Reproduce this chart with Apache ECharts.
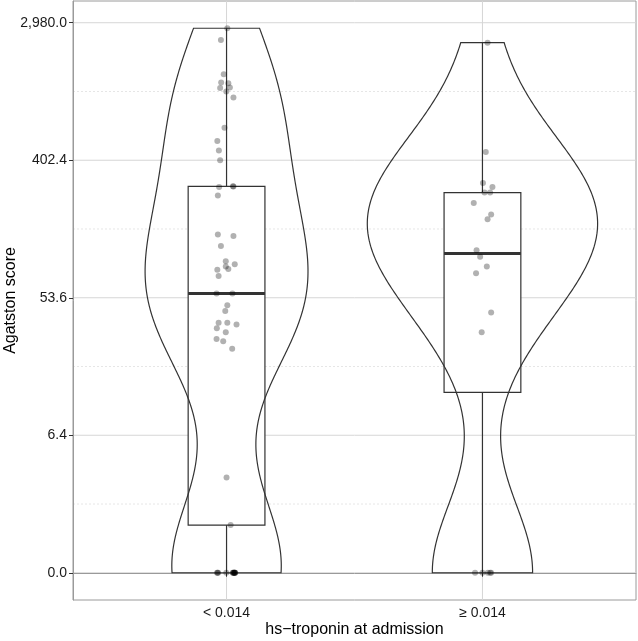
<!DOCTYPE html>
<html>
<head>
<meta charset="utf-8">
<script src="https://cdn.jsdelivr.net/npm/echarts@6/dist/echarts.min.js"></script>
<style>
  html, body { margin: 0; padding: 0; background: #fff; }
  #chart { width: 638px; height: 641px; }
</style>
</head>
<body>
<div id="chart"></div>
<script>
// categories on the x axis
const categories = ['< 0.014', '\u2265 0.014'];

// Agatston scores per group
const scoresLow = [2751, 2321, 1408, 1248, 1236, 1152, 1160, 1096, 1002,
  645, 533, 463, 402, 275, 274, 272, 241,
  136, 133, 115, 92, 88, 85, 82, 81, 74,
  57, 57, 48, 44, 37, 37, 36, 34, 32, 29, 28, 25,
  3, 1,
  0, 0, 0, 0, 0, 0, 0, 0, 0, 0, 0, 0, 0];
// horizontal jitter of each point (category units)
const jitterLow = [0.003, -0.022, -0.011, -0.021, 0.007, -0.025, 0.013, -0.001, 0.027,
  -0.008, -0.036, -0.030, -0.025, 0.025, 0.027, -0.029, -0.034,
  -0.034, 0.027, -0.022, -0.003, 0.032, -0.003, 0.007, -0.036, -0.031,
  -0.039, 0.023, 0.003, -0.005, -0.031, 0.003, 0.039, -0.038, -0.003, -0.039, -0.013, 0.022,
  0, 0.016,
  -0.037, -0.035, -0.033, -0.001, 0.024, 0.026, 0.027, 0.029, 0.030, 0.031, 0.032, 0.033, 0.034];

const scoresHigh = [2230, 454, 289, 272, 251, 251, 216, 182, 170,
  108, 98, 85, 77, 43, 32,
  0, 0, 0, 0, 0];
const jitterHigh = [0.020, 0.013, 0.002, 0.039, 0.008, 0.030, -0.034, 0.034, 0.020,
  -0.023, -0.009, 0.017, -0.025, 0.034, -0.003,
  -0.029, 0.0, 0.021, 0.030, 0.034];

// y breaks on the log(1 + score) scale; labels show the score itself
const yBreaks = [0, 2, 4, 6, 8];
const yMinorBreaks = [1, 3, 5, 7];

const groups = [scoresLow, scoresHigh].map(s => s.map(v => Math.log1p(v)));
const jitters = [jitterLow, jitterHigh];

// ---- stats like ggplot ----
function quantile(arr, p) {
  const s = arr.slice().sort((a, b) => a - b);
  const h = (s.length - 1) * p;
  const lo = Math.floor(h);
  return s[lo] + (h - lo) * ((s[lo + 1] !== undefined ? s[lo + 1] : s[lo]) - s[lo]);
}
function sd(arr) {
  const m = arr.reduce((a, b) => a + b, 0) / arr.length;
  return Math.sqrt(arr.reduce((a, b) => a + (b - m) * (b - m), 0) / (arr.length - 1));
}
function bwNrd0(arr) {
  const lo = Math.min(sd(arr), (quantile(arr, 0.75) - quantile(arr, 0.25)) / 1.34);
  return 0.9 * lo * Math.pow(arr.length, -0.2);
}

const boxStats = groups.map(g => {
  const q1 = quantile(g, 0.25), med = quantile(g, 0.5), q3 = quantile(g, 0.75);
  const iqr = q3 - q1;
  const lowW = Math.min(...g.filter(v => v >= q1 - 1.5 * iqr));
  const highW = Math.max(...g.filter(v => v <= q3 + 1.5 * iqr));
  return [lowW, q1, med, q3, highW];
});

const violins = groups.map(g => {
  const bw = bwNrd0(g);
  const mn = Math.min(...g), mx = Math.max(...g);
  const pts = [];
  for (let i = 0; i < 256; i++) {
    const t = mn + (mx - mn) * i / 255;
    let d = 0;
    g.forEach(x => { const z = (t - x) / bw; d += Math.exp(-0.5 * z * z); });
    pts.push([t, d / (g.length * bw * Math.sqrt(2 * Math.PI))]);
  }
  return pts;
});
const maxDens = Math.max(...violins.map(v => Math.max(...v.map(p => p[1]))));

const allT = groups.flat();
const tMax = Math.max(...allT), tMin = Math.min(...allT);
const yPad = (tMax - tMin) * 0.05;

function fmtScore(v) {
  const s = v.toFixed(1);
  const [i, f] = s.split('.');
  return i.replace(/\B(?=(\d{3})+(?!\d))/g, ',') + '.' + f;
}

const font = "'Liberation Sans', Arial, sans-serif";
const ink = '#333333';
const frame = '#9a9a9a';

const points = [];
groups.forEach((g, gi) => g.forEach((t, i) => points.push([gi + 1 + jitters[gi][i], t])));

const chart = echarts.init(document.getElementById('chart'));
chart.setOption({
  animation: false,
  backgroundColor: '#fff',
  grid: {
    left: 73, right: 2, top: 1, bottom: 41,
    outerBoundsMode: 'none', containLabel: false,
    show: true, borderColor: frame, borderWidth: 1, backgroundColor: '#fff'
  },
  xAxis: {
    type: 'value', min: 0.4, max: 2.6,
    name: 'hs\u2212troponin at admission',
    nameLocation: 'middle', nameGap: 22, nameMoveOverlap: false,
    nameTextStyle: { fontFamily: font, fontSize: 16, color: '#000' },
    axisLine: { show: true, lineStyle: { color: frame } },
    splitLine: { show: false },
    axisTick: { show: true, customValues: [1, 2], length: 4, lineStyle: { color: ink } },
    axisLabel: {
      customValues: [1, 2], margin: 6,
      fontFamily: font, fontSize: 14, color: '#1a1a1a',
      formatter: v => categories[Math.round(v) - 1]
    }
  },
  yAxis: {
    type: 'value', min: tMin - yPad, max: tMax + yPad,
    name: 'Agatston score',
    nameLocation: 'middle', nameGap: 54, nameMoveOverlap: false,
    nameTextStyle: { fontFamily: font, fontSize: 16, color: '#000' },
    axisLine: { show: true, lineStyle: { color: frame } },
    splitLine: { show: false },
    axisTick: { show: true, customValues: yBreaks, length: 4, lineStyle: { color: ink } },
    axisLabel: {
      customValues: yBreaks, margin: 6,
      fontFamily: font, fontSize: 14, color: '#1a1a1a',
      formatter: v => fmtScore(Math.expm1(v))
    }
  },
  series: [
    // grid lines
    {
      type: 'custom', silent: true, z: 0,
      data: yBreaks.map(v => [0, v, 1]).concat(yMinorBreaks.map(v => [0, v, 0])),
      renderItem: (params, api) => {
        const t = api.value(1), major = api.value(2) === 1;
        const a = api.coord([0.4, t]), b = api.coord([2.6, t]);
        return {
          type: 'line', shape: { x1: a[0], y1: a[1], x2: b[0], y2: b[1] },
          style: major ? { stroke: '#d6d6d6', lineWidth: 1 }
                       : { stroke: '#e6e6e6', lineWidth: 1, lineDash: [2, 2] }
        };
      }
    },
    {
      type: 'custom', silent: true, z: 0,
      data: [[1, 0], [2, 0]],
      renderItem: (params, api) => {
        const x = api.value(0);
        const a = api.coord([x, tMin - yPad]), b = api.coord([x, tMax + yPad]);
        return {
          type: 'line', shape: { x1: a[0], y1: a[1], x2: b[0], y2: b[1] },
          style: { stroke: '#d6d6d6', lineWidth: 1 }
        };
      }
    },
    // boxplots
    {
      type: 'custom', silent: true, z: 2,
      data: boxStats.map((s, i) => [i + 1].concat(s)),
      renderItem: (params, api) => {
        const cx = api.value(0);
        const [lw, q1, med, q3, hw] = [1, 2, 3, 4, 5].map(k => api.value(k));
        const half = 0.15;
        const tl = api.coord([cx - half, q3]), br = api.coord([cx + half, q1]);
        const m1 = api.coord([cx - half, med]), m2 = api.coord([cx + half, med]);
        const wTop = api.coord([cx, hw]), wQ3 = api.coord([cx, q3]);
        const wQ1 = api.coord([cx, q1]), wBot = api.coord([cx, lw]);
        return {
          type: 'group',
          children: [
            { type: 'line', shape: { x1: wTop[0], y1: wTop[1], x2: wQ3[0], y2: wQ3[1] }, style: { stroke: ink, lineWidth: 1.2 } },
            { type: 'line', shape: { x1: wQ1[0], y1: wQ1[1], x2: wBot[0], y2: wBot[1] }, style: { stroke: ink, lineWidth: 1.2 } },
            { type: 'rect', shape: { x: tl[0], y: tl[1], width: br[0] - tl[0], height: br[1] - tl[1] }, style: { fill: '#fff', stroke: ink, lineWidth: 1.2 } },
            { type: 'line', shape: { x1: m1[0], y1: m1[1], x2: m2[0], y2: m2[1] }, style: { stroke: ink, lineWidth: 3 } }
          ]
        };
      }
    },
    // violins
    {
      type: 'custom', silent: true, z: 3,
      data: [[1, 0], [2, 0]],
      renderItem: (params, api) => {
        const gi = params.dataIndex, cx = gi + 1;
        const curve = violins[gi];
        const right = curve.map(p => api.coord([cx + 0.45 * p[1] / maxDens, p[0]]));
        const left = curve.slice().reverse().map(p => api.coord([cx - 0.45 * p[1] / maxDens, p[0]]));
        return {
          type: 'polygon',
          shape: { points: right.concat(left) },
          style: { fill: 'none', stroke: ink, lineWidth: 1.2 }
        };
      }
    },
    // jittered points
    {
      type: 'scatter', silent: true, z: 4,
      symbolSize: 6,
      itemStyle: { color: 'rgba(0,0,0,0.38)' },
      data: points
    }
  ]
});
</script>
</body>
</html>
